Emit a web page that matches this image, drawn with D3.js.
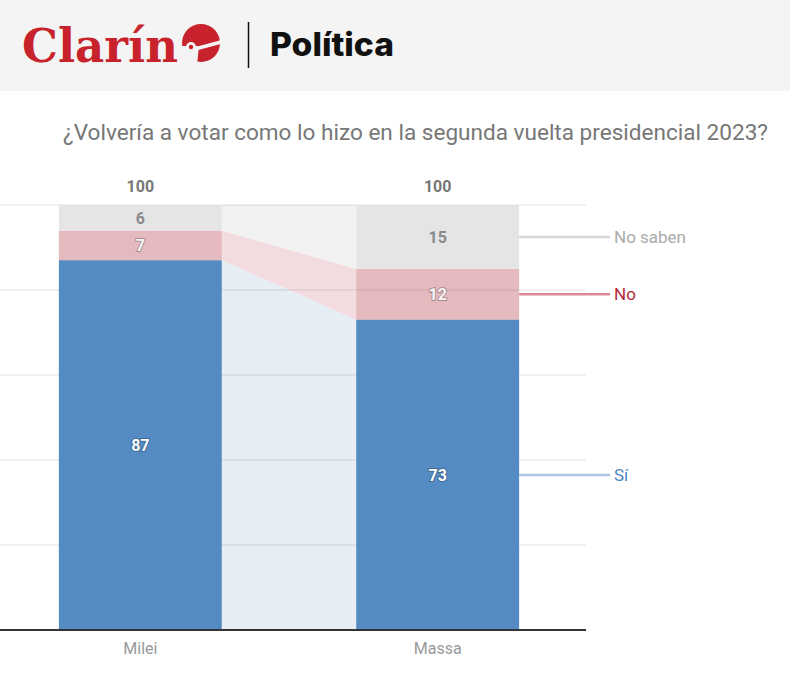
<!DOCTYPE html>
<html><head><meta charset="utf-8">
<script src="https://cdn.jsdelivr.net/npm/d3@7"></script>
<style>
body{margin:0;background:#fff;}
svg{display:block;}
.vl{font-family:Roboto,"Noto Sans",sans-serif;font-weight:700;}
</style></head>
<body>
<svg id="c" width="790" height="673"></svg>
<script>
const categories = ["Milei","Massa"];
const seriesNames = ["Sí","No","No saben"];
const si = [87,73];
const no = [7,12];
const noSaben = [6,15];
const totals = [100,100];
const yTicks = [0,20,40,60,80,100];
const title = "¿Volvería a votar como lo hizo en la segunda vuelta presidencial 2023?";

const svg = d3.select("#c");
// header
svg.append("rect").attr("x",0).attr("y",0).attr("width",790).attr("height",91).attr("fill","#f4f4f4");
svg.append("text").attr("x",22).attr("y",62).attr("font-family","'DejaVu Serif','Liberation Serif',serif")
  .attr("font-weight",700).attr("font-size",46).attr("fill","#c8232c").attr("textLength",156).attr("lengthAdjust","spacingAndGlyphs").text("Clarín");
// logo mark
const lg = svg.append("g").attr("transform","translate(201,43)");
lg.append("circle").attr("r",19).attr("fill","#c8232c");
lg.append("path").attr("d","M-20,3 L-2,3 L-4,22 L-22,22 Z").attr("fill","#f4f4f4");
lg.append("path").attr("d","M-6,6 L20,-1").attr("stroke","#f4f4f4").attr("stroke-width",3.5);
lg.append("circle").attr("cx",-10).attr("cy",4).attr("r",5).attr("fill","#f4f4f4");
lg.append("circle").attr("cx",-10).attr("cy",4).attr("r",2.2).attr("fill","#c8232c");
svg.append("line").attr("x1",248.5).attr("x2",248.5).attr("y1",22).attr("y2",68).attr("stroke","#111").attr("stroke-width",1.5);
svg.append("text").attr("x",270).attr("y",56).attr("font-family","Inter,Roboto,sans-serif").attr("font-weight",800)
  .attr("font-size",32).attr("fill","#111").attr("textLength",124).attr("lengthAdjust","spacingAndGlyphs").text("Política");

svg.append("text").attr("x",768).attr("y",140).attr("text-anchor","end").attr("font-family","Roboto,sans-serif")
  .attr("font-size",22).attr("fill","#777").attr("textLength",705).attr("lengthAdjust","spacingAndGlyphs").text(title);

const y = d3.scaleLinear().domain([0,100]).range([630,205]);
const x = d3.scaleBand().domain(categories).range([0,578]).paddingInner(0.452).paddingOuter(0.198);

const stackData = categories.map((c,i)=>({cat:c,"Sí":si[i],"No":no[i],"No saben":noSaben[i]}));
const stack = d3.stack().keys(seriesNames)(stackData);
const barColors = {"Sí":"#558bc3","No":"rgba(178,58,72,0.35)","No saben":"#e5e5e5"};
const bandColors = {"Sí":"#e6edf5","No":"#f3dce0","No saben":"#f2f2f2"};

// connecting bands
stack.forEach(s=>{
  const a = s[0], b = s[1];
  const x0 = x(categories[0])+x.bandwidth(), x1 = x(categories[1]);
  svg.append("path").attr("d",`M${x0},${y(a[1])}L${x1},${y(b[1])}L${x1},${y(b[0])}L${x0},${y(a[0])}Z`)
    .attr("fill",bandColors[s.key]);
});

// gridlines
svg.append("g").selectAll("line").data(yTicks.filter(t=>t>0)).join("line")
  .attr("x1",0).attr("x2",586).attr("y1",d=>y(d)).attr("y2",d=>y(d))
  .attr("stroke","rgba(0,0,0,0.08)").attr("stroke-width",1.5);

// bars
stack.forEach(s=>{
  svg.append("g").selectAll("rect").data(s).join("rect")
    .attr("x",d=>x(d.data.cat)).attr("width",x.bandwidth())
    .attr("y",d=>y(d[1])).attr("height",d=>y(d[0])-y(d[1]))
    .attr("fill",barColors[s.key]);
});

// axis baseline
svg.append("line").attr("x1",0).attr("x2",586).attr("y1",630).attr("y2",630).attr("stroke","#333").attr("stroke-width",2);

// value labels
const lblStyle = {"Sí":{fill:"#fff",shadow:true},"No":{fill:"#f6f6f6",shadow:true},"No saben":{fill:"#8a8a8a",shadow:false}};
stack.forEach(s=>{
  svg.append("g").selectAll("text").data(s).join("text").attr("class","vl")
    .attr("x",d=>x(d.data.cat)+x.bandwidth()/2).attr("y",d=>y((d[0]+d[1])/2)+6)
    .attr("text-anchor","middle").attr("font-size",16).attr("fill",lblStyle[s.key].fill)
    .style("paint-order","stroke").attr("stroke",lblStyle[s.key].shadow?"rgba(0,0,0,0.25)":"none").attr("stroke-width",2)
    .text(d=>d[1]-d[0]);
});
// totals
svg.append("g").selectAll("text").data(categories).join("text").attr("class","vl")
  .attr("x",d=>x(d)+x.bandwidth()/2).attr("y",192).attr("text-anchor","middle").attr("font-size",16).attr("fill","#777")
  .text((d,i)=>totals[i]);

// category labels
svg.append("g").selectAll("text").data(categories).join("text")
  .attr("x",d=>x(d)+x.bandwidth()/2).attr("y",654).attr("text-anchor","middle")
  .attr("font-family","Roboto,sans-serif").attr("font-size",16).attr("fill","#999").text(d=>d);

// right legend labels
const legColors = {"Sí":["#a9c4e4","#4a84c4"],"No":["#d98a94","#b3283a"],"No saben":["#d6d6d6","#aaa"]};
const last = categories.length-1;
stack.forEach(s=>{
  const d = s[last];
  const ym = y((d[0]+d[1])/2);
  const xe = x(categories[last])+x.bandwidth();
  svg.append("line").attr("x1",xe).attr("x2",610).attr("y1",ym).attr("y2",ym).attr("stroke",legColors[s.key][0]).attr("stroke-width",2.5);
  svg.append("text").attr("x",614).attr("y",ym+6).attr("font-family","Roboto,sans-serif").attr("font-size",17)
    .attr("fill",legColors[s.key][1]).text(s.key);
});
</script>
</body></html>
